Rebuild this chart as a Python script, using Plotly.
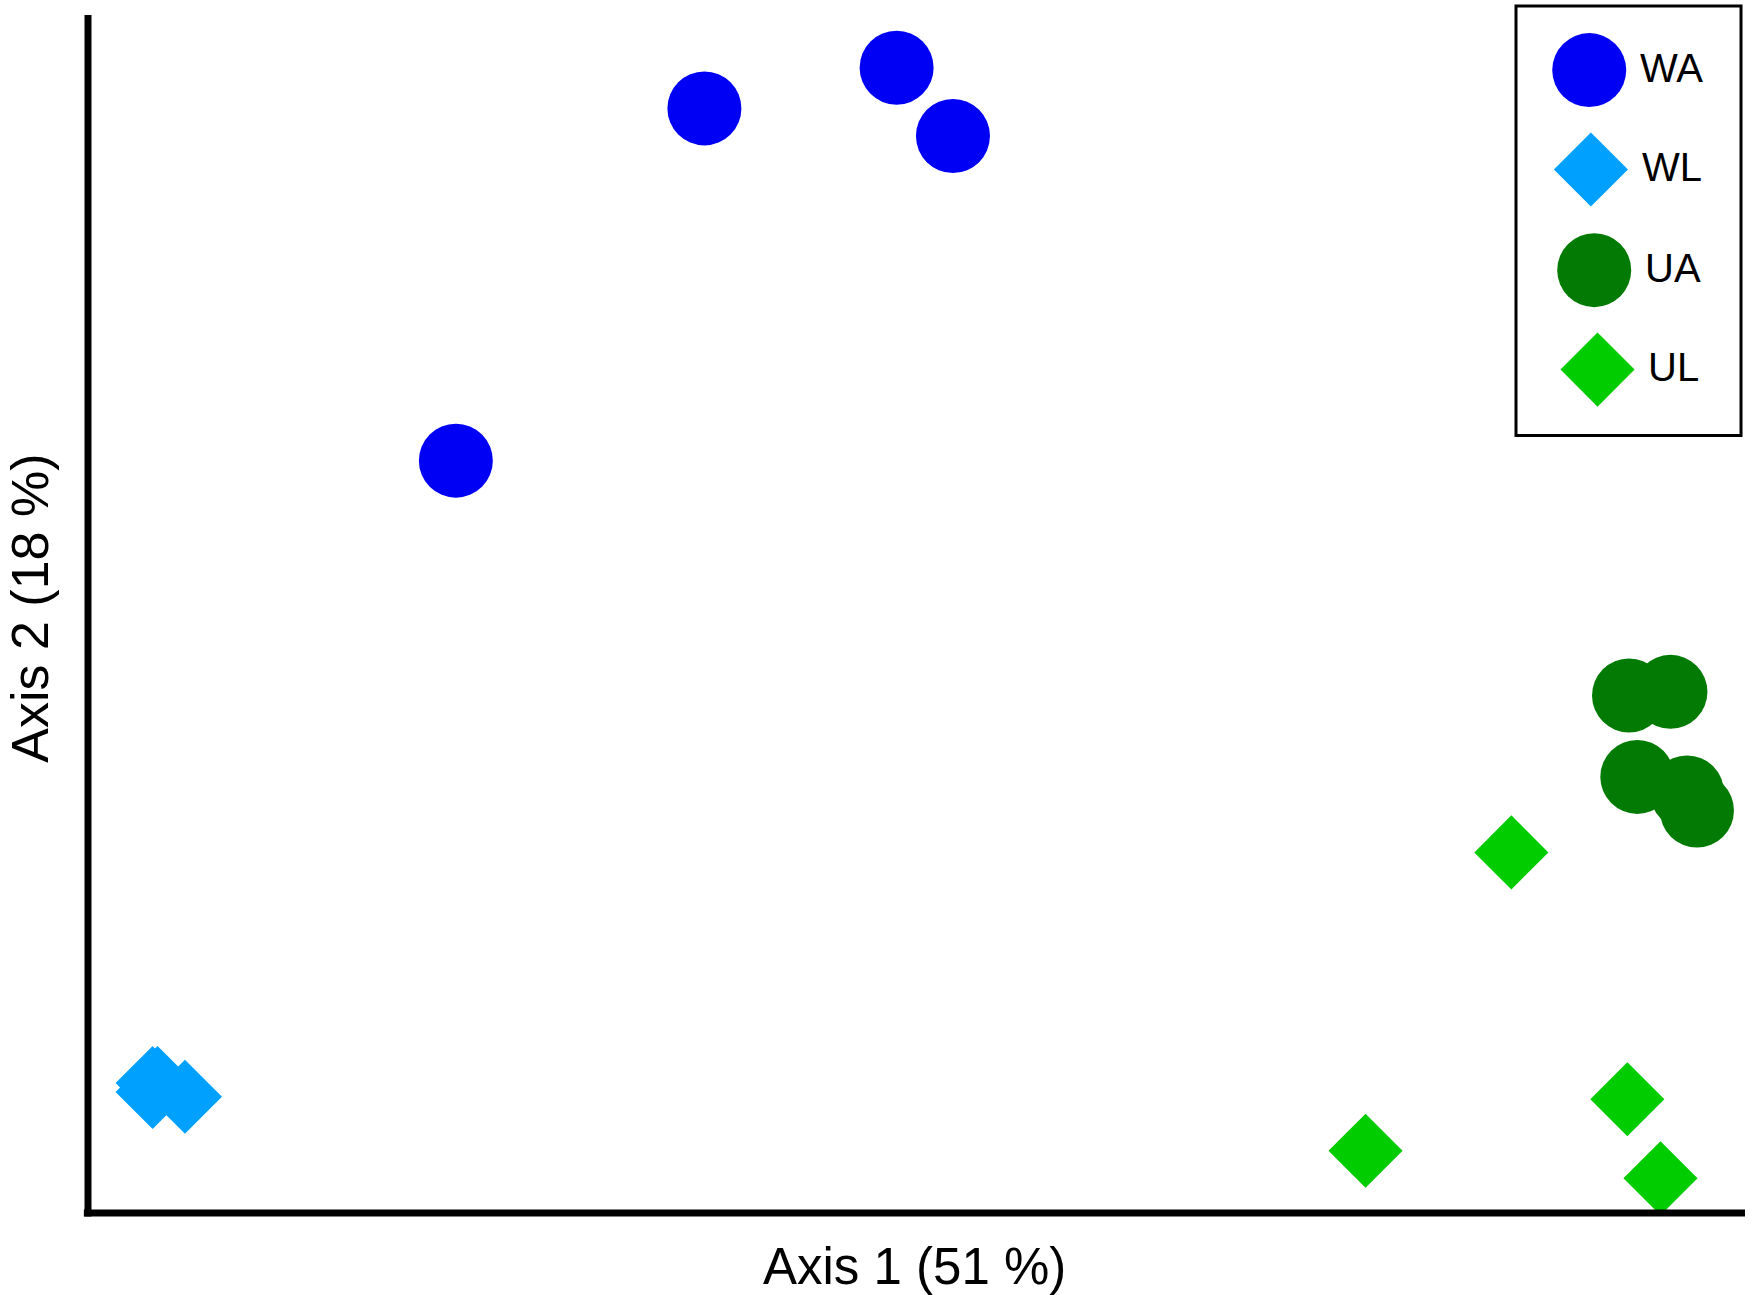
import plotly.graph_objects as go

# ---- data (arbitrary ordination units, axis range 0..100) ----
groups = ["WA", "WL", "UA", "UL"]
colors = ["#0000F5", "#00A0FF", "#037A03", "#00CC00"]
symbols = ["circle", "diamond", "circle", "diamond"]
sizes = [74, 57, 74, 57]

wa_x = [37.2, 48.8, 52.2, 22.2]
wa_y = [92.2, 95.6, 89.9, 62.8]
wl_x = [3.9, 4.2, 3.9, 5.85]
wl_y = [10.85, 10.85, 10.1, 9.7]
ua_x = [93.0, 95.5, 93.5, 96.5, 97.1]
ua_y = [43.2, 43.5, 36.4, 35.1, 33.6]
ul_x = [85.9, 77.1, 92.9, 94.9]
ul_y = [30.1, 5.2, 9.5, 2.9]

xs = [wa_x, wl_x, ua_x, ul_x]
ys = [wa_y, wl_y, ua_y, ul_y]

# legend layout (paper units)
legend_marker_x = [0.906, 0.907, 0.909, 0.911]
legend_marker_y = [0.954, 0.871, 0.787, 0.704]
legend_text_x = [0.9354, 0.9366, 0.9385, 0.9403]

FONT = "Liberation Sans, Arial, sans-serif"

fig = go.Figure()
for g, c, s, sz, x, y in zip(groups, colors, symbols, sizes, xs, ys):
    fig.add_trace(go.Scatter(
        x=x, y=y, mode="markers", name=g, showlegend=False,
        marker=dict(color=c, symbol=s, size=sz, line=dict(width=0)),
    ))

# custom legend markers on an overlay axis in paper-like units
for g, c, s, sz, lx, ly in zip(groups, colors, symbols, sizes, legend_marker_x, legend_marker_y):
    fig.add_trace(go.Scatter(
        x=[lx], y=[ly], mode="markers", showlegend=False, xaxis="x2", yaxis="y2",
        marker=dict(color=c, symbol=s, size=sz, line=dict(width=0)),
        hoverinfo="skip",
    ))

for g, tx, ty in zip(groups, legend_text_x, legend_marker_y):
    fig.add_annotation(x=tx, y=ty + 0.002, xref="paper", yref="paper", text=g,
                       showarrow=False, xanchor="left", yanchor="middle",
                       font=dict(family=FONT, size=40, color="black"))

# legend box
fig.add_shape(type="rect", xref="paper", yref="paper",
              x0=0.8618, x1=0.9976, y0=0.649, y1=1.0075,
              line=dict(color="black", width=3), fillcolor="rgba(0,0,0,0)")

# axis lines
fig.add_shape(type="line", xref="paper", yref="paper", x0=0, x1=0, y0=-0.003, y1=1.0,
              line=dict(color="black", width=7))
fig.add_shape(type="line", xref="paper", yref="paper", x0=-0.0025, x1=1.0, y0=0, y1=0,
              line=dict(color="black", width=7))

# axis titles
fig.add_annotation(x=0.499, y=-0.045, xref="paper", yref="paper", text="Axis 1 (51 %)",
                   showarrow=False, xanchor="center", yanchor="middle",
                   font=dict(family=FONT, size=51, color="black"))
fig.add_annotation(x=-0.0352, y=0.505, xref="paper", yref="paper", text="Axis 2 (18 %)",
                   showarrow=False, xanchor="center", yanchor="middle", textangle=-90,
                   font=dict(family=FONT, size=52, color="black"))

fig.update_layout(
    width=1752, height=1295,
    margin=dict(l=88, r=7, t=15, b=82),
    paper_bgcolor="white", plot_bgcolor="white",
    xaxis=dict(range=[0, 100], showgrid=False, zeroline=False, showticklabels=False,
               ticks="", showline=False),
    yaxis=dict(range=[0, 100], showgrid=False, zeroline=False, showticklabels=False,
               ticks="", showline=False),
    xaxis2=dict(range=[0, 1], overlaying="x", anchor="y2", visible=False),
    yaxis2=dict(range=[0, 1], overlaying="y", anchor="x2", visible=False),
)

fig.write_html("out.html", config={"displayModeBar": False},
               post_script="document.body.style.margin='0';")
